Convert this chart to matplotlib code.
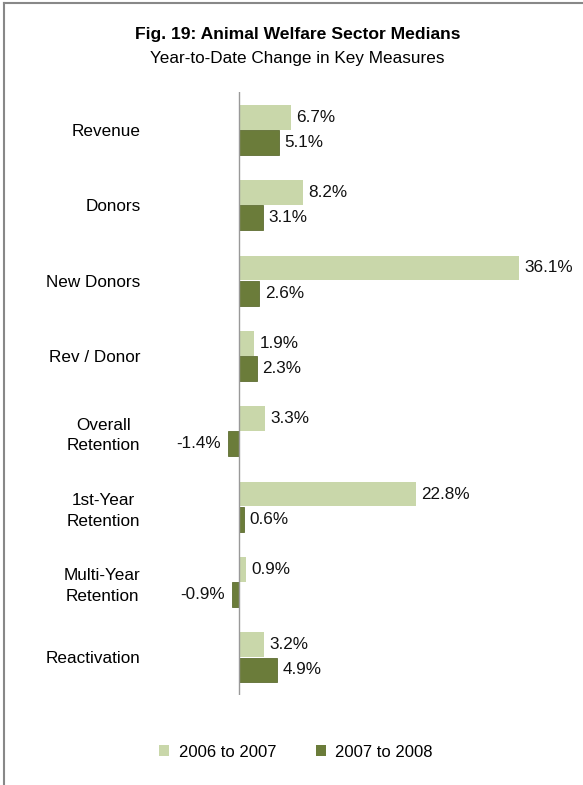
import matplotlib.pyplot as plt
from matplotlib.lines import Line2D
from matplotlib.patches import Patch

plt.rcParams['font.family'] = ['Liberation Sans', 'DejaVu Sans']

categories = ["Revenue", "Donors", "New Donors", "Rev / Donor", "Overall\nRetention",
              "1st-Year\nRetention", "Multi-Year\nRetention", "Reactivation"]
chg_0607 = [6.7, 8.2, 36.1, 1.9, 3.3, 22.8, 0.9, 3.2]
chg_0708 = [5.1, 3.1, 2.6, 2.3, -1.4, 0.6, -0.9, 4.9]
series_names = ["2006 to 2007", "2007 to 2008"]

light = "#C9D7AA"
dark = "#6B7C3A"
fs = 12.3

fig = plt.figure(figsize=(5.83, 7.85), dpi=100)
ax = fig.add_axes([0.2744, 0.1146, 0.686, 0.768])

ypos = list(range(len(categories)))
h = 0.33
ax.barh([y - 0.167 for y in ypos], chg_0607, height=h, color=light, label=series_names[0])
ax.barh([y + 0.167 for y in ypos], chg_0708, height=h, color=dark, edgecolor="#5E6E32",
        linewidth=0.6, label=series_names[1])

for vals, off in [(chg_0607, -0.167), (chg_0708, 0.167)]:
    for y, v in zip(ypos, vals):
        ax.annotate(f"{v:.1f}%", xy=(v, y + off), xytext=(4 if v >= 0 else -5, 0),
                    textcoords="offset points", va="center",
                    ha="left" if v >= 0 else "right", fontsize=fs, color="#111111")

ax.set_xlim(-10.19, 41.39)
ax.set_ylim(7.5, -0.5)
ax.set_yticks(ypos)
ax.set_yticklabels(categories, fontsize=fs, multialignment="center", linespacing=1.45)
ax.tick_params(axis="y", length=0, pad=14)
ax.set_xticks([])
for s in ["top", "right", "bottom", "left"]:
    ax.spines[s].set_visible(False)
ax.axvline(0, color="#999999", linewidth=1.0)

fig.text(0.51, 0.956, "Fig. 19: Animal Welfare Sector Medians", ha="center", va="center",
         fontsize=12.6, fontweight="bold")
fig.text(0.51, 0.926, "Year-to-Date Change in Key Measures", ha="center", va="center",
         fontsize=fs)

handles = [Patch(facecolor=light), Patch(facecolor=dark)]
fig.legend(handles, series_names, loc="center", bbox_to_anchor=(0.508, 0.042), ncol=2,
           frameon=False, fontsize=12, handlelength=0.6, handleheight=0.6,
           handletextpad=0.55, columnspacing=2.4)

# chart frame (top and left edges)
fig.add_artist(Line2D([0.0075, 1.0], [0.9965, 0.9965], color="#888888", linewidth=1.5))
fig.add_artist(Line2D([0.0075, 0.0075], [0.0, 0.9965], color="#888888", linewidth=1.5))

fig.savefig("out.png", dpi=100)
